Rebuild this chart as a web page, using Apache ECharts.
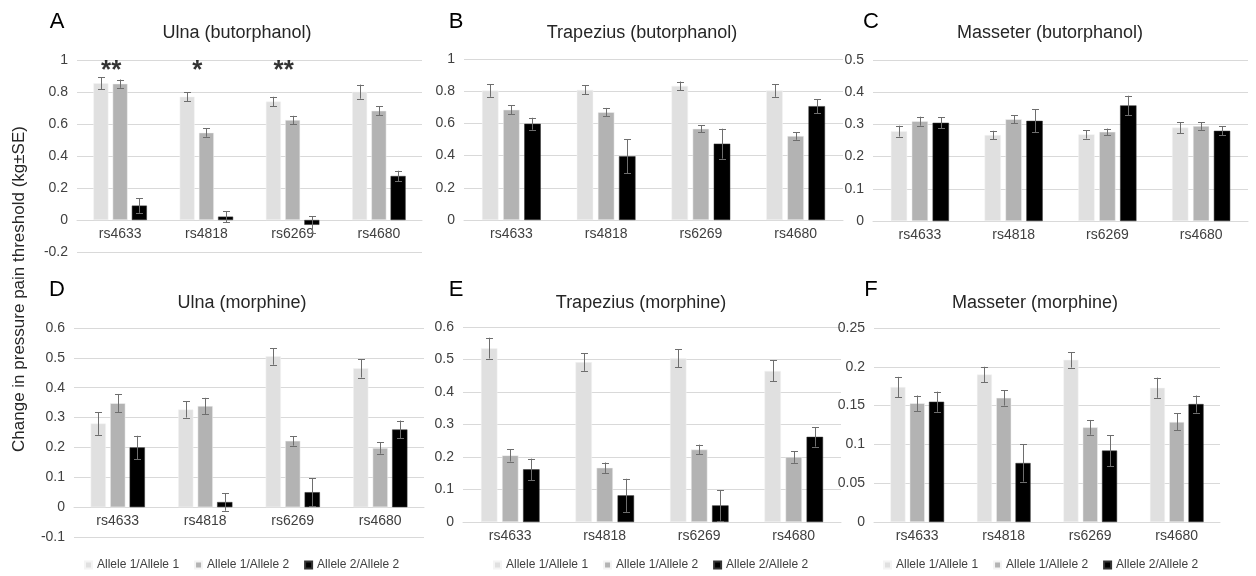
<!DOCTYPE html>
<html>
<head>
<meta charset="utf-8">
<script src="https://cdn.jsdelivr.net/npm/echarts@6/dist/echarts.min.js"></script>
<style>
  html, body { margin: 0; padding: 0; background: #fff; }
  #main { width: 1256px; height: 576px; }
</style>
</head>
<body>
<div id="main"></div>
<script>
// snps on the x axis, genotype groups as series
var cats = ['rs4633', 'rs4818', 'rs6269', 'rs4680'];
var alleles = ['Allele 1/Allele 1', 'Allele 1/Allele 2', 'Allele 2/Allele 2'];

// mean change (kg) per genotype, then SE
var ulnaButMean = [[0.854, 0.771, 0.740, 0.802], [0.852, 0.546, 0.625, 0.683], [0.090, 0.021, -0.030, 0.275]];
var ulnaButSE   = [[0.037, 0.028, 0.030, 0.044], [0.026, 0.026, 0.026, 0.028], [0.045, 0.035, 0.054, 0.033]];
var trapButMean = [[0.804, 0.808, 0.833, 0.804], [0.685, 0.670, 0.567, 0.522], [0.598, 0.396, 0.474, 0.707]];
var trapButSE   = [[0.039, 0.028, 0.027, 0.039], [0.028, 0.026, 0.021, 0.024], [0.037, 0.106, 0.093, 0.043]];
var massButMean = [[0.279, 0.267, 0.269, 0.290], [0.310, 0.316, 0.277, 0.295], [0.305, 0.311, 0.359, 0.280]];
var massButSE   = [[0.017, 0.013, 0.013, 0.017], [0.014, 0.012, 0.010, 0.012], [0.017, 0.036, 0.030, 0.014]];
var ulnaMorMean = [[0.280, 0.327, 0.505, 0.465], [0.348, 0.339, 0.222, 0.198], [0.200, 0.017, 0.050, 0.260]];
var ulnaMorSE   = [[0.038, 0.027, 0.028, 0.031], [0.031, 0.027, 0.016, 0.019], [0.039, 0.029, 0.047, 0.030]];
var trapMorMean = [[0.535, 0.492, 0.504, 0.465], [0.205, 0.167, 0.223, 0.200], [0.162, 0.082, 0.051, 0.262]];
var trapMorSE   = [[0.032, 0.027, 0.028, 0.032], [0.019, 0.016, 0.015, 0.018], [0.033, 0.051, 0.047, 0.030]];
var massMorMean = [[0.174, 0.190, 0.209, 0.173], [0.153, 0.160, 0.122, 0.129], [0.155, 0.076, 0.092, 0.152]];
var massMorSE   = [[0.013, 0.010, 0.010, 0.013], [0.010, 0.010, 0.0095, 0.011], [0.013, 0.024, 0.020, 0.011]];

// significance marks over ulna (butorphanol)
var ulnaButSig = ['**', '*', '**', ''];
var sigLevel = 0.955;

var colors = ['#e0e0e0', '#b3b3b3', '#000000'];
var font = "'Liberation Sans', Arial, sans-serif";
var catGap = 0.38, barGap = 0.28;

var panels = [
  { letter: 'A', title: 'Ulna (butorphanol)', mean: ulnaButMean, se: ulnaButSE, min: -0.2, max: 1, step: 0.2,
    grid: { left: 77, top: 60, width: 345, height: 192 }, titleX: 237, titleY: 33, letterX: 57, letterY: 22 },
  { letter: 'B', title: 'Trapezius (butorphanol)', mean: trapButMean, se: trapButSE, min: 0, max: 1, step: 0.2,
    grid: { left: 464, top: 59, width: 379, height: 161 }, titleX: 642, titleY: 33, letterX: 456, letterY: 22 },
  { letter: 'C', title: 'Masseter (butorphanol)', mean: massButMean, se: massButSE, min: 0, max: 0.5, step: 0.1,
    grid: { left: 873, top: 60, width: 375, height: 161 }, titleX: 1050, titleY: 33, letterX: 871, letterY: 22 },
  { letter: 'D', title: 'Ulna (morphine)', mean: ulnaMorMean, se: ulnaMorSE, min: -0.1, max: 0.6, step: 0.1,
    grid: { left: 74, top: 328, width: 350, height: 209 }, titleX: 242, titleY: 303, letterX: 57, letterY: 290 },
  { letter: 'E', title: 'Trapezius (morphine)', mean: trapMorMean, se: trapMorSE, min: 0, max: 0.6, step: 0.1,
    grid: { left: 463, top: 327, width: 378, height: 195 }, titleX: 641, titleY: 303, letterX: 456, letterY: 290 },
  { letter: 'F', title: 'Masseter (morphine)', mean: massMorMean, se: massMorSE, min: 0, max: 0.25, step: 0.05,
    grid: { left: 874, top: 328, width: 346, height: 194 }, titleX: 1035, titleY: 303, letterX: 871, letterY: 290 }
];

var legendLeft = [79, 488, 878];

function errorRender(params, api) {
  var cat = api.value(0), m = api.value(1), s = api.value(2), k = api.value(3);
  var hi = api.coord([cat, m + s]);
  var lo = api.coord([cat, m - s]);
  var band = api.size([1, 0])[0];
  var group = band * (1 - catGap);
  var bw = group / (3 + 2 * barGap);
  var x = hi[0] - group / 2 + bw / 2 + k * bw * (1 + barGap);
  x = Math.round(x) + 0.5;
  var cap = 3.5;
  var st = { stroke: '#6e6e6e', lineWidth: 1 };
  return {
    type: 'group',
    children: [
      { type: 'line', shape: { x1: x, y1: hi[1], x2: x, y2: lo[1] }, style: st },
      { type: 'line', shape: { x1: x - cap, y1: Math.round(hi[1]) + 0.5, x2: x + cap, y2: Math.round(hi[1]) + 0.5 }, style: st },
      { type: 'line', shape: { x1: x - cap, y1: Math.round(lo[1]) + 0.5, x2: x + cap, y2: Math.round(lo[1]) + 0.5 }, style: st }
    ]
  };
}

var grids = [], xAxes = [], yAxes = [], series = [], graphics = [];

panels.forEach(function (p, i) {
  grids.push(p.grid);
  // keep the category labels just under the zero line
  var zeroShift = Math.round(p.grid.height * (0 - p.min) / (p.max - p.min));
  xAxes.push({
    type: 'category', gridIndex: i, data: cats,
    offset: -zeroShift,
    axisLine: { onZero: false, lineStyle: { color: '#d9d9d9', width: 1 } },
    axisTick: { show: false },
    axisLabel: { color: '#404040', fontSize: 14, fontFamily: font, margin: 7 },
    splitLine: { show: false }
  });
  yAxes.push({
    type: 'value', gridIndex: i, min: p.min, max: p.max, interval: p.step,
    axisLine: { show: false }, axisTick: { show: false },
    axisLabel: { color: '#404040', fontSize: 14, fontFamily: font, margin: 9 },
    splitLine: { lineStyle: { color: '#d9d9d9', width: 1 } }
  });
  var errData = [];
  for (var k = 0; k < 3; k++) {
    series.push({
      type: 'bar', name: alleles[k], xAxisIndex: i, yAxisIndex: i,
      data: p.mean[k],
      barCategoryGap: (catGap * 100) + '%', barGap: (barGap * 100) + '%',
      itemStyle: { color: colors[k], borderColor: k === 2 ? '#333' : '#f4f4f4', borderWidth: 0.5 },
      emphasis: { disabled: true }
    });
    for (var c = 0; c < cats.length; c++) {
      errData.push([c, p.mean[k][c], p.se[k][c], k]);
    }
  }
  series.push({
    type: 'custom', xAxisIndex: i, yAxisIndex: i, renderItem: errorRender,
    data: errData, encode: { x: 0, y: 1 }, z: 5, silent: true
  });
  graphics.push({
    type: 'text', x: p.titleX, y: p.titleY,
    style: { text: p.title, font: '18px ' + font, fill: '#262626', textAlign: 'center', textVerticalAlign: 'middle' }
  });
  graphics.push({
    type: 'text', x: p.letterX, y: p.letterY,
    style: { text: p.letter, font: '22px ' + font, fill: '#000', textAlign: 'center', textVerticalAlign: 'middle' }
  });
});

// asterisks, between the first two bars of each group
series.push({
  type: 'scatter', xAxisIndex: 0, yAxisIndex: 0, symbolSize: 0, silent: true,
  data: ulnaButSig.map(function (s, c) { return [c, sigLevel, s]; }),
  label: {
    show: true, position: 'inside', offset: [-9, 4],
    formatter: function (d) { return d.value[2]; },
    fontSize: 26, fontWeight: 'bold', color: '#000', fontFamily: font
  }
});

graphics.push({
  type: 'text', x: 19, y: 289, rotation: Math.PI / 2,
  style: { text: 'Change in pressure pain threshold (kg±SE)', font: '17px ' + font, fill: '#262626',
    textAlign: 'center', textVerticalAlign: 'middle' }
});

var legends = legendLeft.map(function (l) {
  return {
    data: alleles, left: l, top: 554, itemWidth: 7, itemHeight: 7, itemGap: 15,
    icon: 'rect', selectedMode: false,
    textStyle: { color: '#404040', fontSize: 12, fontFamily: font }
  };
});

var chart = echarts.init(document.getElementById('main'), null, { renderer: 'canvas' });
chart.setOption({
  animation: false,
  backgroundColor: '#fff',
  grid: grids,
  xAxis: xAxes,
  yAxis: yAxes,
  legend: legends,
  series: series,
  graphic: graphics
});
</script>
</body>
</html>
